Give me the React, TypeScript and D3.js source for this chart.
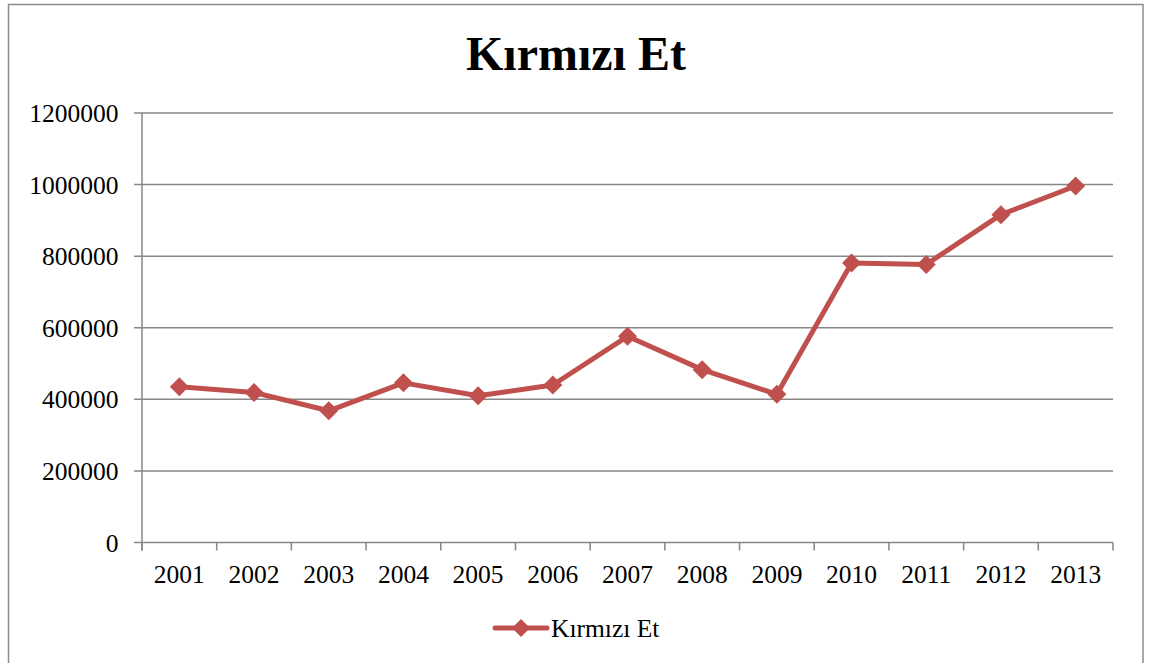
import React from "react";
import * as d3 from "d3";

const years = ["2001","2002","2003","2004","2005","2006","2007","2008","2009","2010","2011","2012","2013"];
const values = [435000, 419000, 368000, 446000, 410000, 440000, 576000, 483000, 414000, 781000, 777000, 916000, 996000];
const yTicks = [0, 200000, 400000, 600000, 800000, 1000000, 1200000];
const seriesName = "Kırmızı Et";
const title = "Kırmızı Et";

export default function App() {
  const W = 1154, H = 663;
  const left = 142, right = 1113, top = 113, bottom = 542.5;
  const x = d3.scaleBand<string>().domain(years).range([left, right]);
  const y = d3.scaleLinear().domain([0, 1200000]).range([bottom, top]);
  const color = "#C0504D";
  const grid = "#878787";
  const font = "'Liberation Serif', 'Times New Roman', serif";
  const line = d3.line<number>().x((_, i) => x(years[i])! + x.bandwidth() / 2).y(d => y(d));
  const diamond = (cx: number, cy: number, r: number) => `M${cx},${cy - r}L${cx + r},${cy}L${cx},${cy + r}L${cx - r},${cy}Z`;
  return (
    <svg width={W} height={H} style={{ position: "absolute", left: 0, top: 0 }} fontFamily={font}>
      <rect x={0} y={0} width={W} height={H} fill="#fff" />
      <rect x={8.5} y={4.5} width={1134.5} height={670} fill="#fff" stroke="#8c8c8c" strokeWidth={1.5} />
      <text x={576} y={70} textAnchor="middle" fontSize={48} fontWeight="bold" fill="#000">{title}</text>
      {yTicks.map(t => (
        <g key={t}>
          <line x1={134} x2={right} y1={y(t)} y2={y(t)} stroke={grid} strokeWidth={1.5} />
          <text x={118.5} y={y(t) + 9} textAnchor="end" fontSize={25.5} fill="#000">{t}</text>
        </g>
      ))}
      <line x1={left} x2={left} y1={top} y2={bottom + 8} stroke={grid} strokeWidth={1.5} />
      {[...years.map(yr => x(yr)!), right].map((px, i) => (
        <line key={i} x1={px} x2={px} y1={bottom} y2={bottom + 8} stroke={grid} strokeWidth={1.5} />
      ))}
      {years.map(yr => (
        <text key={yr} x={x(yr)! + x.bandwidth() / 2} y={583} textAnchor="middle" fontSize={25.5} fill="#000">{yr}</text>
      ))}
      <path d={line(values)!} fill="none" stroke={color} strokeWidth={5} strokeLinejoin="round" />
      {values.map((v, i) => (
        <path key={i} d={diamond(x(years[i])! + x.bandwidth() / 2, y(v), 9.5)} fill={color} />
      ))}
      <line x1={495} x2={547} y1={628} y2={628} stroke={color} strokeWidth={5} strokeLinecap="round" />
      <path d={diamond(521, 628, 9)} fill={color} />
      <text x={551} y={637} fontSize={25.5} fill="#000">{seriesName}</text>
    </svg>
  );
}
